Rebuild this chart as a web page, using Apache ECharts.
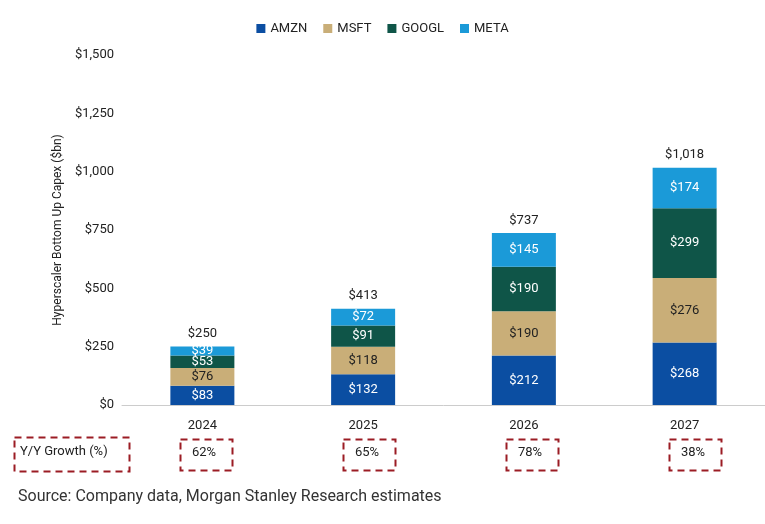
<!DOCTYPE html>
<html><head><meta charset="utf-8">
<script src="https://cdn.jsdelivr.net/npm/echarts@6/dist/echarts.min.js"></script>
<style>body{margin:0;background:#fff}#c{width:765px;height:524px}</style>
</head><body><div id="c"></div>
<script>
var years = ['2024', '2025', '2026', '2027'];
var amzn = [83, 132, 212, 268];
var msft = [76, 118, 190, 276];
var googl = [53, 91, 190, 299];
var meta = [39, 72, 145, 174];
var totals = [250, 413, 737, 1018];
var growth = ['62%', '65%', '78%', '38%'];
var yTicks = [0, 250, 500, 750, 1000, 1250, 1500];

var chart = echarts.init(document.getElementById('c'));
var font = 'Roboto';
function money(v) { return '$' + v.toLocaleString('en-US'); }
function seg(name, data, color, txt) {
    return {
        name: name, type: 'bar', stack: 'a', data: data, barWidth: 64,
        itemStyle: {color: color},
        label: {show: true, position: 'inside', color: txt, fontSize: 13, fontFamily: font,
            formatter: function (p) { return money(p.value); }}
    };
}
// 底部虚线框和增长率
var graphic = [
    {type: 'rect', left: 12, top: 435, shape: {width: 115, height: 34},
        style: {fill: 'none', stroke: '#9b1c24', lineWidth: 2, lineDash: [7, 5]}},
    {type: 'text', x: 20, y: 452, style: {text: 'Y/Y Growth (%)', font: '13px Roboto', fill: '#222', verticalAlign: 'middle'}}
];
growth.forEach(function (g, i) {
    var cx = 204 + i * 163;
    graphic.push({type: 'rect', left: cx - 26, top: 437, shape: {width: 52, height: 31},
        style: {fill: 'none', stroke: '#9b1c24', lineWidth: 2, lineDash: [7, 5]}});
    graphic.push({type: 'text', x: cx, y: 453, style: {text: g, font: '13px Roboto', fill: '#222', align: 'center', verticalAlign: 'middle'}});
});
graphic.push({type: 'text', left: 18, top: 489, style: {text: 'Source: Company data, Morgan Stanley Research estimates', font: '16px Roboto', fill: '#333'}});

var option = {
    animation: false,
    textStyle: {fontFamily: font},
    legend: {
        top: 17, left: 'center', itemWidth: 9, itemHeight: 9, icon: 'rect', itemGap: 16,
        textStyle: {fontSize: 13, color: '#222'},
        data: ['AMZN', 'MSFT', 'GOOGL', 'META']
    },
    grid: {left: 122, width: 652, top: 55, bottom: 119},
    xAxis: {
        type: 'category', data: years,
        axisLine: {lineStyle: {color: '#ccc'}}, axisTick: {show: false},
        axisLabel: {color: '#222', fontSize: 13, margin: 14}
    },
    yAxis: {
        type: 'value', min: 0, max: 1500, interval: 250,
        name: 'Hyperscaler Bottom Up Capex ($bn)', nameLocation: 'middle', nameGap: 58,
        nameTextStyle: {fontSize: 12, color: '#222'},
        axisLabel: {color: '#222', fontSize: 13, formatter: function (v) { return money(v); }},
        splitLine: {show: false}
    },
    graphic: graphic,
    series: [
        seg('AMZN', amzn, '#0b4ea2', '#fff'),
        seg('MSFT', msft, '#c9ae78', '#222'),
        seg('GOOGL', googl, '#0f5548', '#fff'),
        seg('META', meta, '#1b9ad8', '#fff'),
        {
            name: 'total', type: 'bar', stack: 'a', barWidth: 64,
            data: totals.map(function () { return 0; }),
            label: {show: true, position: 'top', color: '#222', fontSize: 13, distance: 6,
                formatter: function (p) { return money(totals[p.dataIndex]); }}
        }
    ]
};
chart.setOption(option);
</script></body></html>
